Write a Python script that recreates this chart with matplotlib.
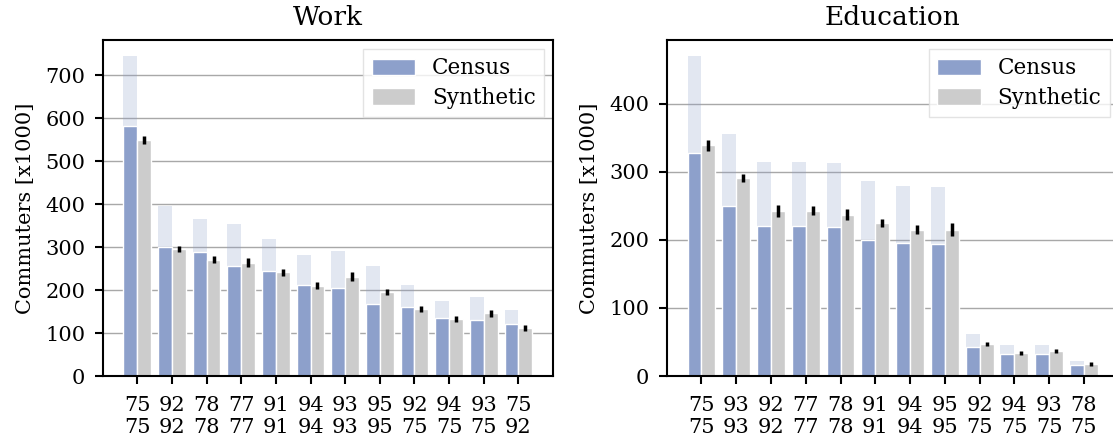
import matplotlib
matplotlib.use("Agg")
import matplotlib.pyplot as plt
import numpy as np

plt.rcParams["font.family"] = "DejaVu Serif"

# work commuters per origin/destination pair [x1000]
work_origin = ["75", "92", "78", "77", "91", "94", "93", "95", "92", "94", "93", "75"]
work_dest = ["75", "92", "78", "77", "91", "94", "93", "95", "75", "75", "75", "92"]
work_total = [745, 396, 366, 355, 320, 281, 290, 257, 211, 175, 183, 153]
work_census = [582, 300, 288, 256, 244, 212, 205, 168, 161, 134, 130, 121]
work_synth = [549, 295, 271, 264, 241, 210, 231, 195, 157, 132, 146, 112]
work_err = [10, 7, 9, 10, 9, 8, 10, 7, 7, 7, 8, 7]

# education commuters
edu_origin = ["75", "93", "92", "77", "78", "91", "94", "95", "92", "94", "93", "78"]
edu_dest = ["75", "93", "92", "77", "78", "91", "94", "95", "75", "75", "75", "75"]
edu_total = [470, 356, 315, 314, 313, 286, 279, 277, 62, 46, 45, 22]
edu_census = [328, 249, 220, 220, 219, 200, 195, 194, 43, 32, 32, 16]
edu_synth = [339, 291, 242, 243, 237, 225, 215, 215, 47, 34, 37, 17]
edu_err = [8, 6, 9, 6, 8, 6, 7, 9, 3, 3, 3, 3]

CENSUS = "#8da0cb"
SYNTH = "#cccccc"
W = 0.4

fig = plt.figure(figsize=(11.13, 4.43), dpi=100)
ax1 = fig.add_axes([102.7 / 1113, 1 - 376 / 443, 450.3 / 1113, 336 / 443])
ax2 = fig.add_axes([666.7 / 1113, 1 - 376 / 443, 452 / 1113, 336 / 443])


def draw(ax, title, origin, dest, total, census, synth, err, yticks):
    x = np.arange(len(origin))
    ax.set_axisbelow(True)
    ax.yaxis.grid(True, color="#a8a8a8", linewidth=1)
    ax.bar(x - W / 2, total, W, color=CENSUS, alpha=0.25, linewidth=0)
    ax.bar(x - W / 2, census, W, color=CENSUS, edgecolor="white",
           linewidth=1, label="Census")
    ax.bar(x + W / 2, synth, W, color=SYNTH, edgecolor="white",
           linewidth=1, label="Synthetic")
    ax.errorbar(x + W / 2, synth, yerr=err, fmt="none", ecolor="black",
                elinewidth=2.5, capsize=0)
    ax.set_xlim(-1, len(origin))
    ax.set_ylim(0, max(total) * 1.05)
    ax.set_xticks(x)
    ax.set_xticklabels([o + "\n" + d for o, d in zip(origin, dest)])
    ax.set_yticks(yticks)
    ax.tick_params(labelsize=15, length=5.5, width=1.5, pad=7)
    ax.tick_params(axis="x", pad=9)
    for s in ax.spines.values():
        s.set_linewidth(1.5)
    ax.set_title(title, fontsize=19, pad=11)
    ax.set_ylabel("Commuters [x1000]", fontsize=15, labelpad=7)
    leg = ax.legend(loc="upper right", fontsize=15.5, fancybox=False,
                    handlelength=2.0, handleheight=0.8, borderpad=0.4,
                    labelspacing=0.35, borderaxespad=0.4)
    leg.get_frame().set_edgecolor("#dddddd")


draw(ax1, "Work", work_origin, work_dest, work_total, work_census,
     work_synth, work_err, range(0, 800, 100))
draw(ax2, "Education", edu_origin, edu_dest, edu_total, edu_census,
     edu_synth, edu_err, range(0, 500, 100))

fig.savefig("out.png", dpi=100)
